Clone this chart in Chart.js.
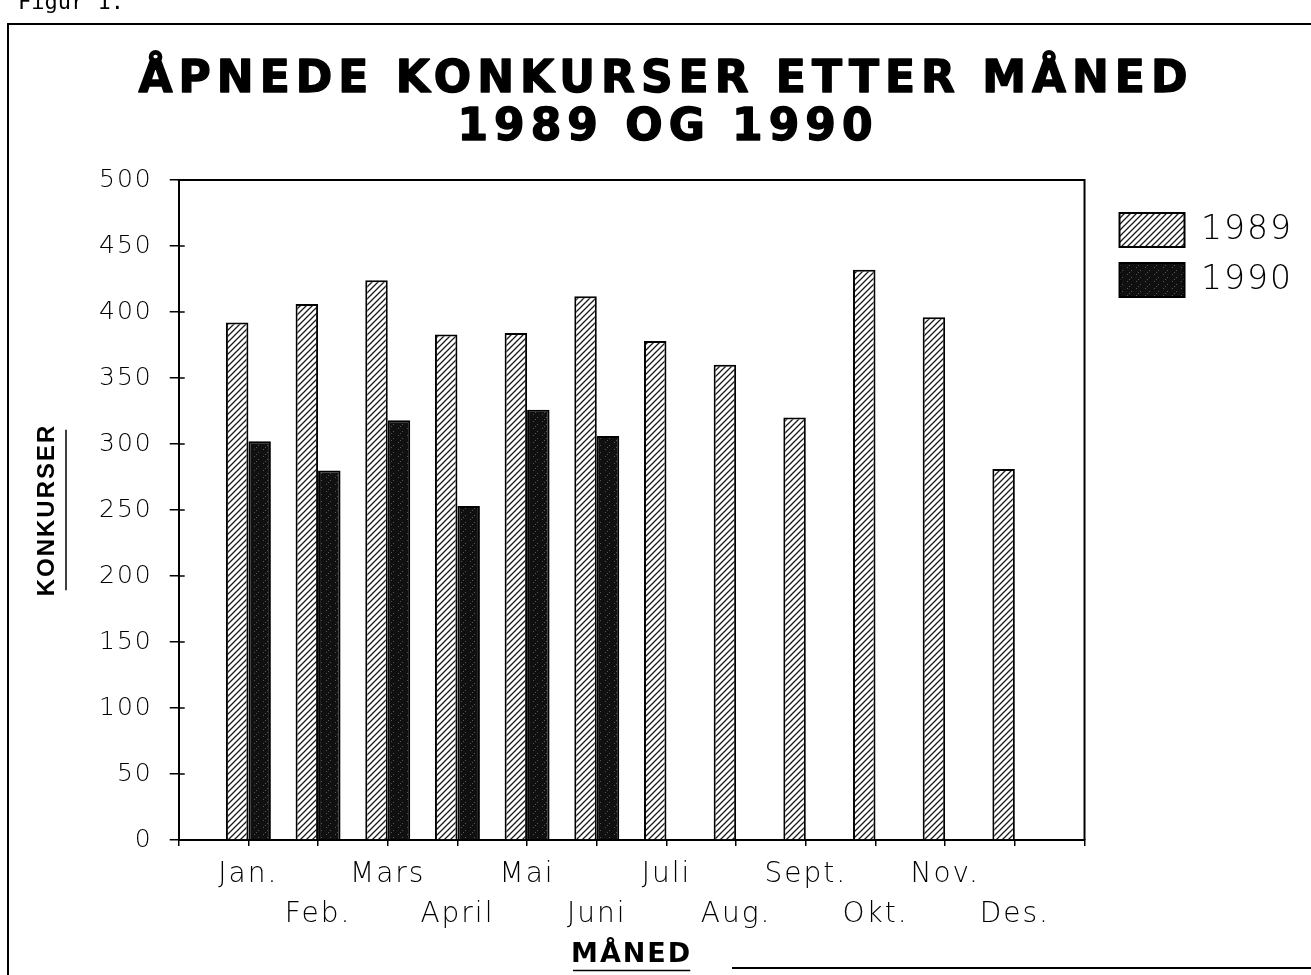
<!DOCTYPE html>
<html>
<head>
<meta charset="utf-8">
<title>Åpnede konkurser etter måned 1989 og 1990</title>
<script src="https://cdn.jsdelivr.net/npm/chart.js@4.4.1/dist/chart.umd.min.js"></script>
<style>
    html, body { margin: 0; padding: 0; background: #fff; }
    #wrap { position: relative; width: 1311px; height: 975px; overflow: hidden; }
</style>
</head>
<body>
<div id="wrap"><canvas id="chart" width="1311" height="975"></canvas></div>
<script>
// Chart data
var months = ['Jan.', 'Feb.', 'Mars', 'April', 'Mai', 'Juni', 'Juli', 'Aug.', 'Sept.', 'Okt.', 'Nov.', 'Des.'];
var seriesNames = ['1989', '1990'];
var values1989 = [392, 406, 424, 383, 384, 412, 378, 360, 320, 432, 396, 281];
var values1990 = [302, 280, 318, 253, 326, 306, null, null, null, null, null, null];
var yMin = 0;
var yMax = 500;
var yStep = 50;
var titleLines = ['ÅPNEDE KONKURSER ETTER MÅNED', '1989 OG 1990'];
var xTitle = 'MÅNED';
var yTitle = 'KONKURSER';
var figureLabel = 'Figur 1.';

var LIGHT = '"DejaVu Sans", "Noto Sans", sans-serif';
var BOLD = '"DejaVu Sans", "Liberation Sans", sans-serif';

document.addEventListener('DOMContentLoaded', function() {
    var canvas = document.getElementById('chart');
    var ctx = canvas.getContext('2d');

    // Diagonal hatch for 1989
    function makeHatch() {
        var c = document.createElement('canvas');
        c.width = 6; c.height = 6;
        var g = c.getContext('2d');
        g.fillStyle = '#fff';
        g.fillRect(0, 0, 6, 6);
        g.strokeStyle = '#1a1a1a';
        g.lineWidth = 1.3;
        g.beginPath();
        g.moveTo(0, 6); g.lineTo(6, 0);
        g.moveTo(-1, 1); g.lineTo(1, -1);
        g.moveTo(5, 7); g.lineTo(7, 5);
        g.stroke();
        return ctx.createPattern(c, 'repeat');
    }

    // Dark speckled fill for 1990
    function makeSpeckle() {
        var c = document.createElement('canvas');
        c.width = 9; c.height = 7;
        var g = c.getContext('2d');
        g.fillStyle = '#101010';
        g.fillRect(0, 0, 9, 7);
        g.fillStyle = '#555';
        g.fillRect(2, 1, 1, 1);
        g.fillRect(6, 4, 1, 1);
        g.fillRect(4, 6, 1, 1);
        return ctx.createPattern(c, 'repeat');
    }

    // Blank slot at each end so the axis runs one step past Jan. and Des.,
    // and the month names alternate between two rows
    var labels = [''].concat(months.map(function(m, i) {
        return i % 2 === 0 ? [m, ''] : ['', m];
    }), ['']);
    var data1989 = [null].concat(values1989, [null]);
    var data1990 = [null].concat(values1990, [null]);

    var LEGEND_DX = 19;
    var LEGEND_DY = 17;

    var decorations = {
        id: 'decorations',
        afterLayout: function(chart) {
            var lg = chart.legend;
            if (lg) {
                lg.left += LEGEND_DX; lg.right += LEGEND_DX;
                lg.top += LEGEND_DY; lg.bottom += LEGEND_DY;
            }
        },
        beforeLayout: function(chart) { chart.ctx.letterSpacing = '2px'; },
        beforeDraw: function(chart) { chart.ctx.letterSpacing = '2px'; },
        afterDraw: function(chart) {
            var c = chart.ctx;
            var a = chart.chartArea;
            c.save();
            c.letterSpacing = '0px';
            c.strokeStyle = '#000';
            c.fillStyle = '#000';

            // top and right sides of the plot box
            c.lineWidth = 2;
            c.beginPath();
            c.moveTo(a.left - 1, a.top);
            c.lineTo(a.right, a.top);
            c.lineTo(a.right, a.bottom);
            c.stroke();

            // y tick marks also poke into the plot
            var ys = chart.scales.y;
            c.lineWidth = 1.5;
            c.beginPath();
            ys.ticks.forEach(function(t) {
                if (t.value === yMin || t.value === yMax) return;
                var py = ys.getPixelForValue(t.value);
                c.moveTo(a.left, py);
                c.lineTo(a.left + 6, py);
            });
            c.stroke();

            // page frame
            c.lineWidth = 2;
            c.beginPath();
            c.moveTo(8, 975);
            c.lineTo(8, 24);
            c.lineTo(1311, 24);
            c.moveTo(732, 968);
            c.lineTo(1311, 968);
            c.stroke();

            // figure label, cut by the top edge
            c.font = '22px "DejaVu Sans Mono", monospace';
            c.textAlign = 'left';
            c.textBaseline = 'alphabetic';
            c.fillText(figureLabel, 18, 9);

            // main title, heavy and widely spaced
            c.font = 'bold 44px ' + BOLD;
            c.letterSpacing = '6px';
            c.textAlign = 'center';
            c.lineWidth = 1.4;
            c.lineJoin = 'round';
            c.fillText(titleLines[0], 663 + 3, 92);
            c.strokeText(titleLines[0], 663 + 3, 92);
            c.fillText(titleLines[1], 665 + 3, 140);
            c.strokeText(titleLines[1], 665 + 3, 140);
            c.letterSpacing = '0px';

            // underline of the y title
            var yt = ys.options.title;
            c.font = 'bold ' + yt.font.size + 'px ' + yt.font.family;
            var yw = c.measureText(yTitle).width;
            var yx = ys.left + yt.padding.top + yt.font.size / 2 + 19;
            var ymid = (a.top + a.bottom) / 2;
            c.lineWidth = 1.5;
            c.beginPath();
            c.moveTo(yx, ymid - yw / 2 - 3);
            c.lineTo(yx, ymid + yw / 2 + 3);
            c.stroke();

            // underline of the x title
            var xs = chart.scales.x;
            var xt = xs.options.title;
            c.font = 'bold ' + xt.font.size + 'px ' + xt.font.family;
            var xw = c.measureText(xTitle).width;
            var xmid = (a.left + a.right) / 2;
            var ty = xs.bottom - xt.padding.bottom - xt.font.size / 2 + 16;
            c.beginPath();
            c.moveTo(xmid - xw / 2 - 3, ty);
            c.lineTo(xmid + xw / 2 + 3, ty);
            c.stroke();

            c.restore();
        }
    };

    new Chart(ctx, {
        type: 'bar',
        data: {
            labels: labels,
            datasets: [{
                label: seriesNames[0],
                data: data1989,
                backgroundColor: makeHatch(),
                borderColor: '#000',
                borderWidth: 2,
                categoryPercentage: 0.645,
                barPercentage: 1
            }, {
                label: seriesNames[1],
                data: data1990,
                backgroundColor: makeSpeckle(),
                borderColor: '#000',
                borderWidth: 2,
                categoryPercentage: 0.645,
                barPercentage: 1
            }]
        },
        options: {
            responsive: false,
            animation: false,
            devicePixelRatio: 1,
            layout: { padding: { top: 180, left: 14, right: 27, bottom: 4 } },
            plugins: {
                tooltip: { enabled: false },
                title: { display: false },
                legend: {
                    position: 'right',
                    align: 'start',
                    fullSize: false,
                    labels: {
                        boxWidth: 65,
                        boxHeight: 34,
                        padding: 16,
                        color: '#000',
                        font: { family: LIGHT, weight: '200', size: 33 }
                    }
                }
            },
            scales: {
                x: {
                    offset: false,
                    grid: { offset: false, drawOnChartArea: false, tickLength: 6, color: '#000', lineWidth: 1.5 },
                    border: { color: '#000', width: 2 },
                    ticks: {
                        autoSkip: false,
                        maxRotation: 0,
                        minRotation: 0,
                        padding: 9,
                        color: '#000',
                        font: { family: LIGHT, weight: '200', size: 28, lineHeight: 40 / 28 }
                    },
                    title: {
                        display: true,
                        text: xTitle,
                        color: '#000',
                        font: { family: BOLD, weight: 'bold', size: 27, lineHeight: 1 },
                        padding: { top: -3, bottom: 3 }
                    }
                },
                y: {
                    min: yMin,
                    max: yMax,
                    grid: { drawOnChartArea: false, tickLength: 9, color: '#000', lineWidth: 1.5 },
                    border: { color: '#000', width: 2 },
                    ticks: {
                        stepSize: yStep,
                        padding: 17,
                        color: '#000',
                        font: { family: LIGHT, weight: '200', size: 25 }
                    },
                    title: {
                        display: true,
                        text: yTitle,
                        color: '#000',
                        font: { family: '"Liberation Sans", sans-serif', weight: 'bold', size: 24, lineHeight: 1 },
                        padding: { top: 21, bottom: 23 }
                    }
                }
            }
        },
        plugins: [decorations]
    });
});
</script>
</body>
</html>
